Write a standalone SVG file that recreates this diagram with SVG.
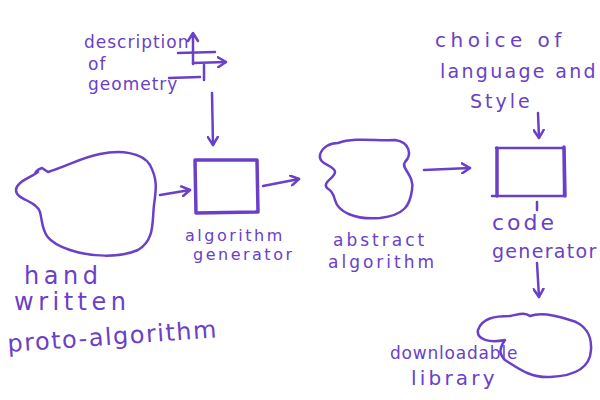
<svg xmlns="http://www.w3.org/2000/svg" width="600" height="400" viewBox="0 0 600 400">
<style>
.s{fill:none;stroke:#6a40c8;stroke-width:2.5;stroke-linecap:round;stroke-linejoin:round}
.b{fill:none;stroke:#6a40c8;stroke-width:3.5;stroke-linecap:round;stroke-linejoin:round}
text{fill:#6a40c8;font-family:"DejaVu Sans","Liberation Sans",sans-serif;font-weight:normal}
</style>
<defs>
<marker id="ah" markerWidth="12" markerHeight="12" refX="9" refY="6" orient="auto" markerUnits="userSpaceOnUse">
<path d="M1,1 L9,6 L1,11" fill="none" stroke="#6a40c8" stroke-width="2.5" stroke-linecap="round" stroke-linejoin="round"/>
</marker>
</defs>
<rect width="600" height="400" fill="#fff"/>

<g id="geometry">
<text font-size="17" letter-spacing="1"><tspan x="84" y="48">description</tspan><tspan x="88" y="70">of</tspan><tspan x="88" y="90">geometry</tspan></text>
<path class="s" d="M169,78 L200,77"/>
<path class="s" d="M204,65 L204,80"/>
<path class="s" d="M193,64 L193,34 M188,41 L193,33 L198,41"/>
<path class="s" d="M178,53 L215,52"/>
<path class="s" d="M193,63 L226,62" marker-end="url(#ah)"/>
</g>

<g id="handwritten">
<path class="s" d="M42,168 C36,170 33,175 38,172 C30,178 16,182 16,190 C16,200 36,200 40,212 C44,228 40,240 70,250 C90,257 120,258 138,250 C155,240 152,222 154,205 C156,190 158,180 150,165 C142,152 120,150 100,154 C80,158 70,165 48,172 L42,168"/>
<text font-size="24" letter-spacing="4.5"><tspan x="24" y="284">hand</tspan><tspan x="14" y="310">written</tspan></text>
<text font-size="24" letter-spacing="1.5" x="8" y="352" transform="rotate(-4 8 352)">proto-algorithm</text>
</g>

<g id="algogen">
<path class="b" d="M195,160 L257,160 L258,212 L196,213 Z"/>
<text font-size="16" letter-spacing="2.5"><tspan x="185" y="241">algorithm</tspan><tspan x="193" y="260">generator</tspan></text>
</g>

<g id="abstract">
<path class="s" d="M338,143 C355,137 375,141 395,140 C410,142 412,155 405,162 C400,168 415,175 412,190 C410,205 405,215 380,218 C355,220 338,212 335,200 C333,192 330,190 327,188 C322,182 335,178 335,172 C335,165 318,165 320,155 C322,147 330,143 338,143 Z"/>
<text font-size="17" letter-spacing="3"><tspan x="333" y="246">abstract</tspan><tspan x="328" y="268">algorithm</tspan></text>
</g>

<g id="choice">
<text font-size="20" letter-spacing="4.5"><tspan x="435" y="47">choice of</tspan></text>
<text font-size="19" letter-spacing="2.3"><tspan x="440" y="78">language and</tspan></text>
<text font-size="19" letter-spacing="3"><tspan x="470" y="108">Style</tspan></text>
</g>

<g id="codegen">
<path class="s" d="M496,148 L564,148 L564,196 L492,196"/>
<path class="b" d="M497,148 L497,196 M564,147 L565,196"/>
<path class="s" d="M537,202 L537,210"/>
<text font-size="22" letter-spacing="3"><tspan x="492" y="230">code</tspan></text>
<text font-size="19" letter-spacing="1.3"><tspan x="492" y="258">generator</tspan></text>
</g>

<g id="library">
<path class="s" d="M505,340 C490,343 476,340 478,330 C482,318 495,316 510,316 C520,314 525,312 530,316 C540,312 555,315 570,320 C585,324 592,335 591,350 C590,368 575,376 550,377 C530,378 518,368 505,360 C500,355 498,350 505,340 Z"/>
<text font-size="17" letter-spacing="0.8"><tspan x="390" y="359">downloadable</tspan></text>
<text font-size="20" letter-spacing="3.2"><tspan x="411" y="385">library</tspan></text>
</g>

<g id="connectors">
<path class="s" d="M212,93 L213,145" marker-end="url(#ah)"/>
<path class="s" d="M160,195 L190,190" marker-end="url(#ah)"/>
<path class="s" d="M263,186 L299,179" marker-end="url(#ah)"/>
<path class="s" d="M424,170 L470,168" marker-end="url(#ah)"/>
<path class="s" d="M538,113 L539,138" marker-end="url(#ah)"/>
<path class="s" d="M537,263 L539,297" marker-end="url(#ah)"/>
</g>
</svg>
